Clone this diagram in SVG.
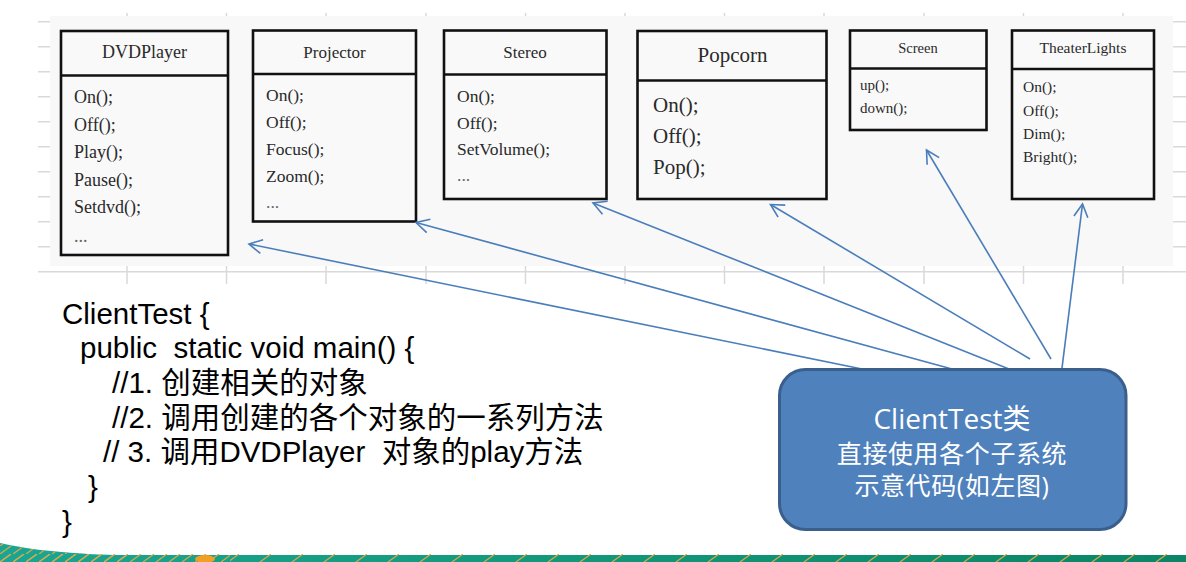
<svg xmlns="http://www.w3.org/2000/svg" width="1186" height="562" viewBox="0 0 1186 562">
<style>
.grid{stroke:#d9d9d9;stroke-width:1.5;fill:none}
.box{fill:#f9f9f9;stroke:#111;stroke-width:2.6}
.div{stroke:#111;stroke-width:2.6}
.t{font-family:"Liberation Serif","Times New Roman",serif;fill:#2a2a2a}
.code{font-family:"Liberation Sans",Arial,"Noto Sans CJK SC",sans-serif;font-size:29.5px;fill:#000}
.conn{stroke:#4a7ebb;stroke-width:1.6;fill:none}
.ct{font-family:"Open Sans","Noto Sans CJK SC",sans-serif;fill:#fff;text-anchor:middle}
</style>
<defs>
<marker id="arr" markerUnits="userSpaceOnUse" markerWidth="20" markerHeight="20" viewBox="-2 -10 20 20" refX="0" refY="0" orient="auto">
<path d="M13,-7 L0,0 L13,7" stroke="#4a7ebb" stroke-width="1.6" fill="none"/>
</marker>
<linearGradient id="band" x1="0" y1="0" x2="1" y2="0">
<stop offset="0" stop-color="#1aa592"/>
<stop offset="0.5" stop-color="#12977a"/>
<stop offset="1" stop-color="#0b8566"/>
</linearGradient>
<pattern id="slash" patternUnits="userSpaceOnUse" width="13" height="8" x="0" y="554">
<path d="M0,8 L11,0" stroke="#d9a94c" stroke-width="1.2"/>
</pattern>
<pattern id="slash2" patternUnits="userSpaceOnUse" width="32" height="8" x="0" y="554">
<path d="M4,8 L15,0" stroke="#d9a94c" stroke-width="1.2"/>
</pattern>
</defs>
<rect width="1186" height="562" fill="#fff"/>
<g id="background">
<rect x="50" y="16" width="1123" height="250" fill="#f8f8f8"/>
<path class="grid" d="M38,21.7H50M38,46.7H50M38,71.7H50M38,96.7H50M38,121.7H50M38,146.7H50M38,171.7H50M38,196.7H50M38,221.7H50M38,246.7H50"/>
<path class="grid" d="M1173,21.7H1186M1173,46.7H1186M1173,71.7H1186M1173,96.7H1186M1173,121.7H1186M1173,146.7H1186M1173,171.7H1186M1173,196.7H1186M1173,221.7H1186M1173,246.7H1186"/>
<path class="grid" d="M38,271.7H1186"/>
<path class="grid" d="M127,13V16M226.5,13V16M326,13V16M426,13V16M525.5,13V16M625,13V16M724.5,13V16M824,13V16M924,13V16M1023.5,13V16M1123,13V16"/>
<path class="grid" d="M127,266V284M226.5,266V284M326,266V284M426,266V284M525.5,266V284M625,266V284M724.5,266V284M824,266V284M924,266V284M1023.5,266V284M1123,266V284"/>
</g>
<g id="DVDPlayer">
<rect class="box" x="61" y="31" width="167" height="224"/>
<line class="div" x1="61" y1="75.5" x2="228" y2="75.5" stroke-width="4"/>
<text class="t" x="144.5" y="58" font-size="18" text-anchor="middle">DVDPlayer</text>
<text class="t" font-size="18"><tspan x="74" y="103">On();</tspan><tspan x="74" y="130.5">Off();</tspan><tspan x="74" y="158">Play();</tspan><tspan x="74" y="185.5">Pause();</tspan><tspan x="74" y="213">Setdvd();</tspan><tspan x="74" y="241.5" fill="#666">...</tspan></text>
</g>
<g id="Projector">
<rect class="box" x="253" y="30.5" width="163" height="191"/>
<line class="div" x1="253" y1="74" x2="416" y2="74"/>
<text class="t" x="334.5" y="58" font-size="17" text-anchor="middle">Projector</text>
<text class="t" font-size="17.5"><tspan x="266" y="101">On();</tspan><tspan x="266" y="128">Off();</tspan><tspan x="266" y="155">Focus();</tspan><tspan x="266" y="182">Zoom();</tspan><tspan x="266" y="208" fill="#666">...</tspan></text>
</g>
<g id="Stereo">
<rect class="box" x="444" y="30.5" width="162.5" height="168.5"/>
<line class="div" x1="444" y1="74.5" x2="606.5" y2="74.5"/>
<text class="t" x="525" y="58" font-size="17" text-anchor="middle">Stereo</text>
<text class="t" font-size="17.5"><tspan x="457" y="102">On();</tspan><tspan x="457" y="129">Off();</tspan><tspan x="457" y="155">SetVolume();</tspan><tspan x="457" y="181" fill="#666">...</tspan></text>
</g>
<g id="Popcorn">
<rect class="box" x="637.5" y="31" width="189" height="168" stroke-width="3.4"/>
<line class="div" x1="637.5" y1="80.5" x2="826.5" y2="80.5" stroke-width="4"/>
<text class="t" x="732.5" y="62" font-size="21" text-anchor="middle">Popcorn</text>
<text class="t" font-size="21"><tspan x="653" y="112">On();</tspan><tspan x="653" y="143">Off();</tspan><tspan x="653" y="174">Pop();</tspan></text>
</g>
<g id="Screen">
<rect class="box" x="850" y="30.5" width="136.5" height="99.5"/>
<line class="div" x1="850" y1="68.5" x2="986.5" y2="68.5"/>
<text class="t" x="918" y="53" font-size="14.5" text-anchor="middle">Screen</text>
<text class="t" font-size="15"><tspan x="860" y="90">up();</tspan><tspan x="860" y="113">down();</tspan></text>
</g>
<g id="TheaterLights">
<rect class="box" x="1012" y="30.5" width="142" height="168.5"/>
<line class="div" x1="1012" y1="69" x2="1154" y2="69"/>
<text class="t" x="1083" y="53" font-size="15.5" text-anchor="middle">TheaterLights</text>
<text class="t" font-size="15.5"><tspan x="1023" y="92">On();</tspan><tspan x="1023" y="115.5">Off();</tspan><tspan x="1023" y="139">Dim();</tspan><tspan x="1023" y="162">Bright();</tspan></text>
</g>
<g id="connectors">
<line class="conn" x1="249" y1="244" x2="862" y2="369" marker-start="url(#arr)"/>
<line class="conn" x1="416" y1="222.5" x2="952" y2="369" marker-start="url(#arr)"/>
<line class="conn" x1="593" y1="203" x2="1009" y2="369" marker-start="url(#arr)"/>
<line class="conn" x1="770.5" y1="204.5" x2="1030" y2="359" marker-start="url(#arr)"/>
<line class="conn" x1="926.5" y1="150" x2="1051" y2="359" marker-start="url(#arr)"/>
<line class="conn" x1="1082.5" y1="204" x2="1062" y2="368" marker-start="url(#arr)"/>
</g>
<g id="code">
<text class="code" x="62" y="323.5">ClientTest {</text>
<text class="code" x="80" y="358" xml:space="preserve">public  static void main() {</text>
<text class="code" x="112" y="393">//1. 创建相关的对象</text>
<text class="code" x="112" y="427.5">//2. 调用创建的各个对象的一系列方法</text>
<text class="code" x="103" y="462" xml:space="preserve">// 3. 调用DVDPlayer  对象的play方法</text>
<text class="code" x="88" y="497">}</text>
<text class="code" x="62" y="531.5">}</text>
</g>
<g id="ClientTest">
<rect x="779.5" y="369.5" width="346.5" height="160" rx="26" ry="26" fill="#4f81bd" stroke="#3a5f8c" stroke-width="3"/>
<text class="ct" x="952" y="429" font-size="28">ClientTest类</text>
<text class="ct" x="952" y="463" font-size="25" letter-spacing="0.6">直接使用各个子系统</text>
<text class="ct" x="952" y="495" font-size="25" letter-spacing="0.6">示意代码(如左图)</text>
</g>
<g id="footer">
<rect x="0" y="555" width="1186" height="7" fill="url(#band)"/>
<path d="M0,543 C30,550 70,554 130,555.5 L0,556 Z" fill="#1aa592"/>
<rect x="0" y="554" width="230" height="8" fill="url(#slash)"/>
<path d="M0,543 C30,550 70,554 130,555.5 L130,562 L0,562 Z" fill="url(#slash)"/>
<rect x="230" y="554" width="956" height="8" fill="url(#slash2)"/>
<ellipse cx="205" cy="559" rx="10" ry="4" fill="#f0a025"/>
</g>
</svg>
